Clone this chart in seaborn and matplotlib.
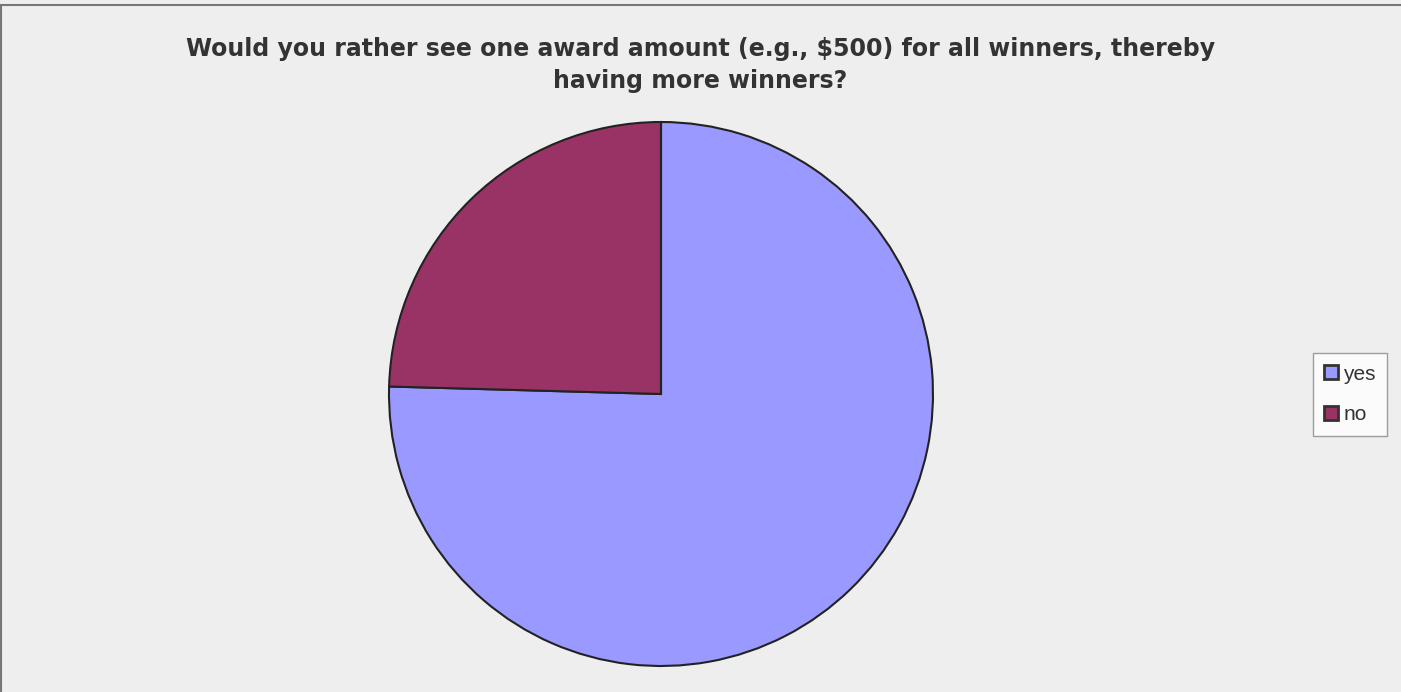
import matplotlib
matplotlib.use("Agg")
import matplotlib.pyplot as plt
import seaborn as sns
from matplotlib.patches import Rectangle

categories = ["yes", "no"]
counts = [43, 14]
colors = ["#9999FF", "#993366"]
title_lines = ["Would you rather see one award amount (e.g., $500) for all winners, thereby",
               "having more winners?"]

sns.set_style("white")
plt.rcParams['font.family'] = ['Liberation Sans', 'DejaVu Sans']

fig = plt.figure(figsize=(14.01, 6.92), dpi=100)
fig.patch.set_facecolor("#EEEEEE")
fig.patches.append(Rectangle((0.0005, -0.1), 1.1, 1.1 - 5/692, transform=fig.transFigure,
                             fill=False, edgecolor="#777777", linewidth=1.5, clip_on=False))

ax = fig.add_axes([389/1401, 26/692, 544/1401, 544/692])
ax.set_facecolor("none")
wedges, _ = ax.pie(counts, colors=colors, startangle=90, counterclock=False,
                   wedgeprops=dict(edgecolor="#222222", linewidth=1.5))
for w in wedges:
    w.set_clip_on(False)
ax.set_xlim(-1, 1)
ax.set_ylim(-1, 1)
ax.set_aspect("equal")
ax.axis("off")

fig.text(0.5, 1 - 49/692, title_lines[0], ha="center", va="center", fontsize=17,
         fontweight="bold", color="#333333", family=["DejaVu Sans"])
fig.text(0.5, 1 - 81/692, title_lines[1], ha="center", va="center", fontsize=17,
         fontweight="bold", color="#333333", family=["DejaVu Sans"])

leg = fig.legend(wedges, categories, loc="center", bbox_to_anchor=(1350/1401, 1 - 394.5/692),
                 frameon=True, fancybox=False, fontsize=15, handlelength=0.68,
                 handleheight=0.68, handletextpad=0.25, labelspacing=1.05,
                 borderpad=0.55, borderaxespad=0, edgecolor="#888888")
leg.get_frame().set_facecolor("white")
leg.get_frame().set_linewidth(1.0)
for t in leg.get_texts():
    t.set_color("#333333")
for h in leg.legend_handles:
    h.set_linewidth(2)
    h.set_edgecolor("#333333")

fig.savefig("out.png", dpi=100, facecolor=fig.get_facecolor())
